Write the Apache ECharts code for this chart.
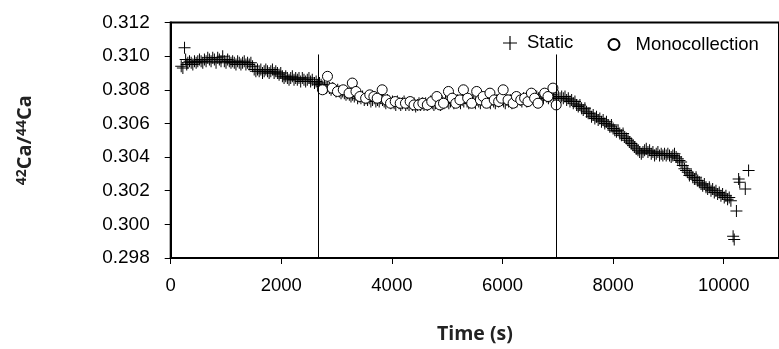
<!DOCTYPE html>
<html>
<head>
<meta charset="utf-8">
<script src="https://cdn.jsdelivr.net/npm/echarts@6/dist/echarts.min.js"></script>
<style>
html,body{margin:0;padding:0;background:#fff;}
#chart{width:779px;height:349px;}
</style>
</head>
<body>
<div id="chart"></div>
<script>
// ---- Data (time in s, 42Ca/44Ca ratio) ----
const staticData = [
[190,0.3094],[220,0.3093],[250,0.3105],[270,0.3098],[290,0.3095],[310,0.3096],[340,0.3097],[370,0.3096],[400,0.3095],[430,0.3097],
[460,0.3096],[490,0.3097],[520,0.3098],[550,0.3097],[580,0.3096],[610,0.3098],[640,0.3097],[670,0.3099],[700,0.3098],[730,0.3097],
[760,0.3099],[790,0.3098],[820,0.3096],[850,0.3099],[880,0.3098],[910,0.3097],[940,0.3100],[970,0.3097],[1000,0.3096],[1030,0.3098],
[1060,0.3097],[1090,0.3096],[1120,0.3097],[1150,0.3096],[1180,0.3095],[1210,0.3097],[1240,0.3096],[1270,0.3095],[1300,0.3096],[1330,0.3097],
[1360,0.3095],[1390,0.3096],[1420,0.3095],[1450,0.3096],[1480,0.3094],[1510,0.3092],[1540,0.3091],[1570,0.3092],[1600,0.3091],[1630,0.3092],
[1660,0.3090],[1690,0.3091],[1720,0.3092],[1750,0.3091],[1780,0.3090],[1810,0.3091],[1840,0.3092],[1870,0.3090],[1900,0.3091],[1930,0.3090],
[1960,0.3089],[1990,0.3090],[2020,0.3088],[2050,0.3087],[2080,0.3088],[2110,0.3087],[2140,0.3086],[2170,0.3087],[2200,0.3088],[2230,0.3086],
[2260,0.3087],[2290,0.3086],[2320,0.3087],[2350,0.3085],[2380,0.3087],[2410,0.3086],[2440,0.3085],[2470,0.3086],[2500,0.3087],[2530,0.3085],
[2560,0.3086],[2600,0.3084],[2630,0.3085],[2660,0.3083],[2690,0.3084],[2720,0.3083],[2750,0.3082],[2780,0.3083],[2810,0.3081],[2840,0.3082],
[2870,0.3081],[2900,0.3080],[2930,0.3081],[2960,0.3080],[2990,0.3079],[3020,0.3080],[3050,0.3079],[3080,0.3078],[3110,0.3079],[3140,0.3078],
[3170,0.3077],[3200,0.3078],[3230,0.3077],[3260,0.3076],[3290,0.3077],[3320,0.3076],[3350,0.3077],[3380,0.3075],[3410,0.3076],[3440,0.3075],
[3470,0.3076],[3500,0.3074],[3530,0.3075],[3560,0.3074],[3590,0.3075],[3620,0.3073],[3650,0.3074],[3680,0.3075],[3710,0.3073],[3740,0.3074],
[3770,0.3073],[3800,0.3075],[3830,0.3074],[3860,0.3073],[3890,0.3072],[3920,0.3074],[3950,0.3073],[3980,0.3072],[4010,0.3073],[4040,0.3072],
[4070,0.3071],[4100,0.3073],[4130,0.3072],[4160,0.3071],[4190,0.3072],[4220,0.3073],[4250,0.3071],[4280,0.3072],[4310,0.3071],[4340,0.3072],
[4370,0.3071],[4400,0.3072],[4430,0.3070],[4460,0.3071],[4490,0.3072],[4520,0.3071],[4550,0.3072],[4580,0.3071],[4610,0.3072],[4640,0.3071],
[4670,0.3072],[4700,0.3073],[4730,0.3072],[4760,0.3071],[4790,0.3072],[4820,0.3073],[4850,0.3072],[4880,0.3071],[4910,0.3073],[4940,0.3072],
[4970,0.3074],[5000,0.3073],[5030,0.3072],[5060,0.3073],[5090,0.3074],[5120,0.3072],[5150,0.3073],[5180,0.3074],[5210,0.3073],[5240,0.3072],
[5270,0.3074],[5300,0.3073],[5330,0.3075],[5360,0.3073],[5390,0.3072],[5420,0.3073],[5450,0.3074],[5480,0.3073],[5510,0.3072],[5540,0.3074],
[5570,0.3073],[5600,0.3072],[5630,0.3074],[5660,0.3073],[5690,0.3075],[5720,0.3074],[5750,0.3073],[5780,0.3072],[5810,0.3074],[5840,0.3073],
[5870,0.3072],[5900,0.3074],[5930,0.3073],[5960,0.3075],[5990,0.3074],[6020,0.3073],[6050,0.3072],[6080,0.3074],[6110,0.3073],[6140,0.3074],
[6170,0.3072],[6200,0.3073],[6230,0.3074],[6260,0.3073],[6290,0.3075],[6320,0.3074],[6350,0.3073],[6380,0.3075],[6410,0.3074],[6440,0.3073],
[6470,0.3075],[6500,0.3074],[6530,0.3076],[6560,0.3075],[6590,0.3074],[6620,0.3076],[6650,0.3075],[6680,0.3074],[6710,0.3076],[6740,0.3075],
[6770,0.3077],[6800,0.3076],[6830,0.3075],[6860,0.3076],[6890,0.3077],[6920,0.3075],[6950,0.3076],[6980,0.3075],[7010,0.3076],[7040,0.3075],
[7070,0.3076],[7100,0.3075],[7130,0.3076],[7160,0.3074],[7190,0.3075],[7220,0.3073],[7250,0.3074],[7280,0.3072],[7310,0.3073],[7340,0.3071],
[7370,0.3070],[7400,0.3071],[7430,0.3069],[7460,0.3068],[7490,0.3069],[7520,0.3067],[7550,0.3066],[7580,0.3066],[7610,0.3064],[7640,0.3065],
[7670,0.3063],[7700,0.3064],[7730,0.3062],[7760,0.3063],[7790,0.3061],[7820,0.3062],[7850,0.3060],[7880,0.3061],[7910,0.3059],[7940,0.3058],
[7970,0.3059],[8000,0.3057],[8030,0.3056],[8060,0.3055],[8090,0.3056],[8120,0.3054],[8150,0.3053],[8180,0.3054],[8210,0.3052],[8240,0.3051],
[8270,0.3050],[8300,0.3049],[8330,0.3048],[8360,0.3047],[8390,0.3046],[8420,0.3045],[8450,0.3044],[8480,0.3043],[8510,0.3042],[8540,0.3043],
[8570,0.3044],[8600,0.3045],[8630,0.3043],[8660,0.3044],[8690,0.3042],[8720,0.3043],[8750,0.3041],[8780,0.3042],[8810,0.3043],[8840,0.3041],
[8870,0.3042],[8900,0.3041],[8930,0.3042],[8960,0.3041],[8990,0.3042],[9020,0.3041],[9050,0.3040],[9080,0.3041],[9110,0.3042],[9140,0.3040],
[9170,0.3039],[9200,0.3038],[9230,0.3037],[9260,0.3035],[9290,0.3033],[9320,0.3032],[9350,0.3031],[9380,0.3029],[9410,0.3030],[9440,0.3028],
[9470,0.3027],[9500,0.3028],[9530,0.3026],[9560,0.3025],[9590,0.3024],[9620,0.3023],[9650,0.3024],[9680,0.3022],[9710,0.3021],[9740,0.3022],
[9770,0.3020],[9800,0.3021],[9830,0.3019],[9860,0.3020],[9890,0.3018],[9920,0.3019],[9950,0.3017],[9980,0.3018],[10010,0.3016],[10040,0.3017],
[10070,0.3015],[10100,0.3016],[10130,0.3014],[10170,0.2993],[10190,0.2991],[10230,0.3008],[10270,0.3027],[10290,0.3025],[10390,0.3021],[10450,0.3032]
];
const monoData = [
[2745,0.3080],[2835,0.3088],[2920,0.3081],[3015,0.3079],[3120,0.3080],[3225,0.3078],[3284,0.3084],[3350,0.3079],[3420,0.3076],[3525,0.3075],
[3600,0.3077],[3674,0.3076],[3734,0.3075],[3824,0.3080],[3900,0.3074],[3975,0.3072],[4060,0.3073],[4150,0.3072],[4245,0.3072],[4330,0.3073],
[4400,0.3071],[4484,0.3071],[4560,0.3072],[4640,0.3071],[4720,0.3073],[4813,0.3076],[4870,0.3071],[4933,0.3072],[5023,0.3079],[5090,0.3075],
[5155,0.3072],[5230,0.3074],[5293,0.3080],[5370,0.3075],[5443,0.3072],[5533,0.3079],[5600,0.3074],[5650,0.3076],[5712,0.3072],[5773,0.3078],
[5850,0.3074],[5930,0.3073],[5982,0.3075],[6012,0.3080],[6100,0.3074],[6192,0.3072],[6252,0.3076],[6330,0.3074],[6400,0.3075],[6460,0.3073],
[6522,0.3078],[6580,0.3075],[6642,0.3072],[6762,0.3078],[6822,0.3076],[6912,0.3081],[6971,0.3071]
];
const dividerTimes = [2660, 6975];
const dividerRange = [0.298, 0.3101];
const yTicks = [0.298, 0.300, 0.302, 0.304, 0.306, 0.308, 0.310, 0.312];
const xTicks = [0, 2000, 4000, 6000, 8000, 10000];
const seriesNames = ['Static', 'Monocollection'];

const PLUS = 'path://M5.5,0 L6.5,0 L6.5,5.5 L12,5.5 L12,6.5 L6.5,6.5 L6.5,12 L5.5,12 L5.5,6.5 L0,6.5 L0,5.5 L5.5,5.5 Z';
const FONT = '"Liberation Sans", Arial, sans-serif';
const TITLE_FONT = '"Open Sans", Lato, sans-serif';

const chart = echarts.init(document.getElementById('chart'), null, {renderer: 'canvas'});
chart.setOption({
  animation: false,
  backgroundColor: '#ffffff',
  grid: {left: 170.7, top: 22.5, width: 611.6, height: 239.2, show: true, borderColor: '#000', borderWidth: 2, backgroundColor: 'transparent'},
  legend: [
    {data: [{name: seriesNames[0], icon: PLUS}], left: 503, top: 33.5, padding: 0, itemWidth: 14, itemHeight: 14,
     textStyle: {fontFamily: FONT, fontSize: 18.5, color: '#000', padding: [0,0,0,5]}},
    {data: [{name: seriesNames[1], itemStyle: {color: '#fff', borderColor: '#000', borderWidth: 2}}], left: 607.5, top: 35, padding: 0, itemWidth: 11, itemHeight: 11,
     textStyle: {fontFamily: FONT, fontSize: 18.5, color: '#000', padding: [0,0,0,11]}}
  ],
  xAxis: {
    type: 'value', min: xTicks[0], max: 11000, interval: 2000,
    name: 'Time (s)', nameLocation: 'middle', nameGap: 66,
    nameTextStyle: {fontFamily: TITLE_FONT, fontWeight: 'bold', fontSize: 19.5, color: '#222'},
    axisLine: {show: true, onZero: false, lineStyle: {color: '#000', width: 2}},
    axisTick: {show: true, inside: false, length: 6, lineStyle: {color: '#000', width: 1}},
    axisLabel: {margin: 18, fontFamily: FONT, fontSize: 18.5, color: '#000', showMaxLabel: false,
      formatter: v => xTicks.includes(v) ? String(v) : ''},
    splitLine: {show: false}
  },
  yAxis: {
    type: 'value', min: yTicks[0], max: yTicks[yTicks.length-1], interval: 0.002,
    name: '{s|42}{b|Ca/}{s|44}{b|Ca}', nameLocation: 'middle', nameRotate: 90, nameGap: 134,
    nameTextStyle: {
      rich: {
        s: {fontFamily: TITLE_FONT, fontWeight: 'bold', fontSize: 14, color: '#222', padding: [0,0,8,0]},
        b: {fontFamily: TITLE_FONT, fontWeight: 'bold', fontSize: 20, color: '#222'}
      }
    },
    axisLine: {show: true, onZero: false, lineStyle: {color: '#000', width: 2}},
    axisTick: {show: true, inside: false, length: 6, lineStyle: {color: '#000', width: 1}},
    axisLabel: {margin: 21, fontFamily: FONT, fontSize: 19, color: '#000', formatter: v => v.toFixed(3)},
    splitLine: {show: false}
  },
  series: [
    {
      name: seriesNames[0], type: 'scatter', data: staticData, symbol: PLUS, symbolSize: 12,
      itemStyle: {color: '#000', opacity: 1}, z: 3,
      markLine: {
        silent: true, symbol: 'none', label: {show: false},
        lineStyle: {color: '#000', width: 1, type: 'solid'},
        data: dividerTimes.map(t => [{coord: [t, dividerRange[0]]}, {coord: [t, dividerRange[1]]}])
      }
    },
    {
      name: seriesNames[1], type: 'scatter', data: monoData, symbol: 'circle', symbolSize: 10,
      itemStyle: {color: '#fff', borderColor: '#000', borderWidth: 1, opacity: 1}, z: 4
    }
  ]
});
</script>
</body>
</html>
